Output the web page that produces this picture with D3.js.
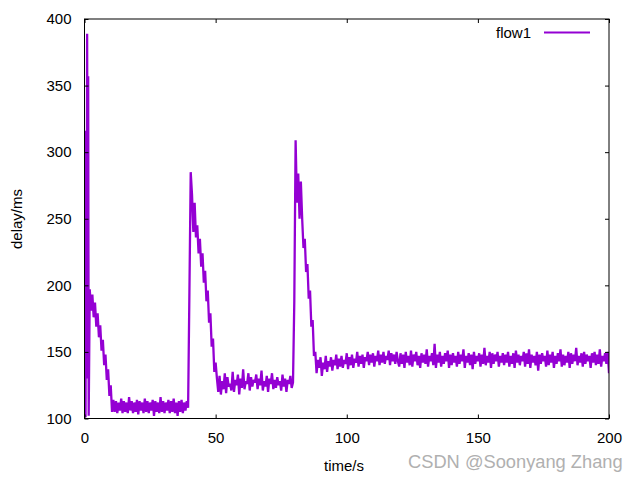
<!DOCTYPE html>
<html>
<head>
<meta charset="utf-8">
<script src="https://cdn.jsdelivr.net/npm/d3@7/dist/d3.min.js"></script>
<style>
  body { margin: 0; background: #fff; }
  svg { display: block; }
  text { font-family: "Liberation Sans", Arial, sans-serif; }
</style>
</head>
<body>
<svg id="chart" width="640" height="480"></svg>
<script>
// start-up burst, sampled irregularly (s, ms)
var burstTime = [0, 0.2, 0.4, 0.6, 0.8, 1.0, 1.2, 1.4, 1.6, 1.8]
var burstDelay = [102, 157, 101, 316, 130, 389, 210, 357, 102, 150]

// the rest is sampled every 0.5 s; each block says where it begins
var sampleStep = 0.5
var blockStart = [2, 40, 80, 120, 160]

var delayA = [ // 2 .. 39.5 s
  197, 181, 193, 176, 187, 169, 179, 161, 170, 151, 159, 140, 148, 129, 137, 117, 125, 105,
  114, 105, 113, 104, 112, 106, 115, 104, 113, 105,
  112, 104, 116, 106, 113, 104, 112, 105, 114, 103,
  113, 106, 112, 104, 115, 105, 113, 104, 112, 106,
  114, 102, 113, 105, 112, 104, 116, 105, 113, 104,
  112, 106, 114, 104, 113, 105, 115, 104, 112, 102,
  113, 105, 114, 104, 112, 106, 113, 108
]
var delayB = [ // 40 .. 79.5 s
  194, 285, 268, 240, 262, 236, 245, 224, 235, 214, 224, 202, 211, 188, 196, 172, 179, 154, 160, 135, 142,
  130, 120, 132, 118, 128, 122, 134, 119, 131, 124,
  126, 121, 135, 120, 129, 125, 133, 118, 130, 123,
  137, 122, 128, 126, 134, 121, 131, 124, 129, 127,
  133, 122, 130, 125, 136, 121, 128, 124, 132, 120,
  130, 126, 134, 122, 129, 123, 131, 125, 128, 121,
  133, 124, 130, 120, 129, 126, 132, 123, 127
]
var delayC = [ // 80 .. 119.5 s
  188, 309, 262, 284, 250, 278, 250, 228, 235, 210, 216, 190, 196, 169, 174, 147, 150,
  134, 144, 138, 146, 132, 142, 137, 147, 135, 143,
  139, 146, 136, 144, 140, 148, 137, 145, 139, 147,
  138, 144, 141, 149, 137, 146, 140, 148, 138, 145,
  142, 150, 139, 147, 141, 148, 138, 146, 143, 150,
  140, 148, 142, 149, 139, 147, 143, 151, 140, 148,
  142, 150, 141, 147, 144, 151, 140, 149, 143, 148,
  141, 150, 143
]
var delayD = [ // 120 .. 159.5 s
  139, 149, 141, 148, 138, 150, 142, 147, 140, 151,
  139, 148, 143, 150, 140, 147, 138, 149, 142, 148,
  141, 152, 139, 147, 143, 149, 140, 156, 138, 148,
  142, 150, 139, 147, 141, 149, 143, 151, 138, 148,
  140, 149, 142, 147, 139, 150, 141, 148, 143, 152,
  138, 147, 142, 149, 140, 148, 137, 150, 141, 147,
  143, 149, 139, 148, 141, 153, 140, 147, 142, 150,
  138, 149, 141, 148, 143, 150, 139, 147, 142, 149
]
var delayE = [ // 160 .. 200 s
  140, 148, 142, 150, 139, 147, 141, 149, 138, 151,
  142, 148, 140, 147, 143, 150, 139, 149, 141, 152,
  138, 148, 142, 147, 140, 150, 136, 148, 141, 149,
  143, 147, 139, 151, 140, 148, 142, 150, 138, 147,
  141, 149, 143, 152, 139, 148, 140, 147, 142, 150,
  138, 149, 141, 148, 143, 153, 140, 147, 142, 149,
  139, 150, 141, 148, 143, 147, 138, 149, 142, 150,
  140, 148, 141, 152, 139, 147, 143, 149, 141, 150,
  134
]

var xTicks = [0, 50, 100, 150, 200]
var yTicks = [100, 150, 200, 250, 300, 350, 400]
var seriesName = 'flow1'

// build the points
var points = burstTime.map(function (t, i) { return [t, burstDelay[i]] })
;[delayA, delayB, delayC, delayD, delayE].forEach(function (block, b) {
  block.forEach(function (v, i) { points.push([blockStart[b] + i * sampleStep, v]) })
})

var margin = { left: 84.5, right: 31, top: 19, bottom: 61.5 }
var width = 640 - margin.left - margin.right
var height = 480 - margin.top - margin.bottom

var svg = d3.select('#chart')
var g = svg.append('g').attr('transform', 'translate(' + margin.left + ',' + margin.top + ')')

var x = d3.scaleLinear().domain([0, 200]).range([0, width])
var y = d3.scaleLinear().domain([100, 400]).range([height, 0])

var line = d3.line()
  .x(function (d) { return x(d[0]) })
  .y(function (d) { return y(d[1]) })

g.append('defs').append('clipPath').attr('id', 'clip')
  .append('rect').attr('width', width).attr('height', height)

g.append('path')
  .datum(points)
  .attr('clip-path', 'url(#clip)')
  .attr('d', line)
  .attr('fill', 'none')
  .attr('stroke', '#9400d3')
  .attr('stroke-width', 2.3)
  .attr('stroke-linejoin', 'bevel')

// axes, gnuplot style: ticks inward on all four sides
function styleAxis (sel) {
  sel.select('.domain').remove()
  sel.selectAll('.tick line').attr('stroke', '#000')
  sel.selectAll('.tick text').attr('fill', '#000').style('font-size', '15px')
}

g.append('g').attr('transform', 'translate(0,' + height + ')')
  .call(d3.axisBottom(x).tickValues(xTicks).tickSize(-4).tickPadding(14))
  .call(styleAxis)
g.append('g')
  .call(d3.axisTop(x).tickValues(xTicks).tickSize(-4).tickFormat(''))
  .call(styleAxis)
g.append('g')
  .call(d3.axisLeft(y).tickValues(yTicks).tickSize(-4).tickPadding(13))
  .call(styleAxis)
g.append('g').attr('transform', 'translate(' + width + ',0)')
  .call(d3.axisRight(y).tickValues(yTicks).tickSize(-4).tickFormat(''))
  .call(styleAxis)

g.append('rect')
  .attr('width', width).attr('height', height)
  .attr('fill', 'none').attr('stroke', '#000').attr('stroke-width', 1)

// labels
svg.append('text')
  .attr('x', 344).attr('y', 471)
  .attr('text-anchor', 'middle')
  .style('font-size', '15px')
  .text('time/s')
svg.append('text')
  .attr('transform', 'translate(22,219) rotate(-90)')
  .attr('text-anchor', 'middle')
  .style('font-size', '15px')
  .text('delay/ms')

// legend
svg.append('text')
  .attr('x', 531).attr('y', 38)
  .attr('text-anchor', 'end')
  .style('font-size', '15px')
  .text(seriesName)
svg.append('line')
  .attr('x1', 544).attr('x2', 590).attr('y1', 32.5).attr('y2', 32.5)
  .attr('stroke', '#9400d3').attr('stroke-width', 2)

// watermark
svg.append('text')
  .attr('x', 408).attr('y', 468)
  .style('font-size', '18.3px')
  .attr('fill', '#b0b0b0')
  .text('CSDN @Soonyang Zhang')
</script>
</body>
</html>
